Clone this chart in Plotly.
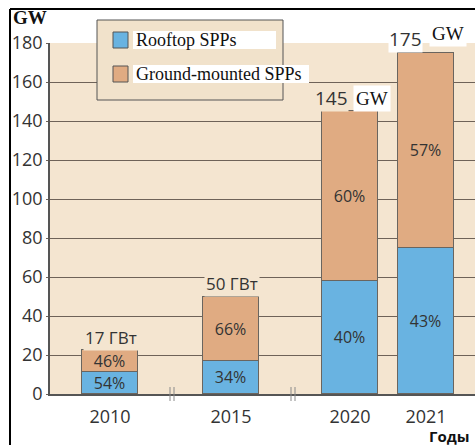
import plotly.graph_objects as go

# ---------------- data ----------------
YEARS = ["2010", "2015", "2020", "2021"]
ROOFTOP_GW = [11.5, 17, 58, 75]
GROUND_GW = [11, 33, 87, 100]
ROOFTOP_PCT = [54, 34, 40, 43]
GROUND_PCT = [46, 66, 60, 57]
TOTAL_VALUES = [17, 50, 145, 175]
TOTAL_UNITS = ["ГВт", "ГВт", "GW", "GW"]
Y_TICKS = [0, 20, 40, 60, 80, 100, 120, 140, 160, 180]
SERIES_NAMES = ["Rooftop SPPs", "Ground-mounted SPPs"]
Y_TITLE = "GW"
X_TITLE = "Годы"

# ---------------- layout constants ----------------
W, H = 475, 445
ML, MR, MT, MB = 50, 0, 43, 51
PW, PH = W - ML - MR, H - MT - MB
SLOTS = [1.2, 3.62, 6.0, 7.52]        # bar slot positions on the x axis
BREAKS = [2.44, 4.86]                 # axis-break marks
BAR_W = 1.12
BLUE = "#69b3e1"
ORANGE = "#e0ab82"
PLOT_BG = "#f4e5d0"
LEGEND_BG = "#f1e2cb"
GRID = "#6e6258"
TXT = "#333333"
SANS = "Open Sans"
SERIF = "Liberation Serif"


def px(p):
    return (p - ML) / PW


def py(p):
    return (H - MB - p) / PH


fig = go.Figure()
fig.add_trace(go.Bar(
    x=SLOTS, y=ROOFTOP_GW, width=BAR_W, name=SERIES_NAMES[0],
    marker=dict(color=BLUE, line=dict(color="#6a655f", width=1)),
    text=[f"{p}%" for p in ROOFTOP_PCT], textposition="inside",
    insidetextanchor="middle",
    insidetextfont=dict(family=SANS, size=16, color=TXT),
    showlegend=False, hoverinfo="skip"))
fig.add_trace(go.Bar(
    x=SLOTS, y=GROUND_GW, width=BAR_W, name=SERIES_NAMES[1],
    marker=dict(color=ORANGE, line=dict(color="#6a655f", width=1)),
    text=[f"{p}%" for p in GROUND_PCT], textposition="inside",
    insidetextanchor="middle",
    insidetextfont=dict(family=SANS, size=16, color=TXT),
    showlegend=False, hoverinfo="skip"))

annotations = []
shapes = []

# totals above bars
for xs, r, g, val, unit in zip(SLOTS, ROOFTOP_GW, GROUND_GW, TOTAL_VALUES, TOTAL_UNITS):
    top = r + g
    if unit == "ГВт":
        annotations.append(dict(x=xs, y=top, xref="x", yref="y", text=f"{val} {unit}",
                                showarrow=False, yanchor="middle", yshift=13, xshift=1,
                                font=dict(family=SANS, size=17, color=TXT),
                                bgcolor=PLOT_BG, borderpad=1))
    else:
        big = val > 150
        annotations.append(dict(x=xs, y=top, xref="x", yref="y", text=f"{val}",
                                showarrow=False, xanchor="right", yanchor="middle",
                                yshift=14 if big else 13, xshift=-3 if big else -1,
                                font=dict(family=SANS, size=19, color=TXT),
                                bgcolor="white" if big else PLOT_BG, borderpad=0))
        annotations.append(dict(x=xs, y=top, xref="x", yref="y", text=unit,
                                showarrow=False, xanchor="left", yanchor="middle",
                                yshift=19 if big else 13, xshift=3,
                                font=dict(family=SERIF, size=19, color="#111"),
                                bgcolor="white", borderpad=2))

# legend box
shapes.append(dict(type="rect", xref="paper", yref="paper", layer="above",
                   x0=px(97), x1=px(283), y0=py(100), y1=py(20),
                   fillcolor=LEGEND_BG, line=dict(color="#555", width=1)))
legend_rows = [(SERIES_NAMES[0], BLUE, 40, 276), (SERIES_NAMES[1], ORANGE, 74, 309)]
for name, col, cy, wend in legend_rows:
    shapes.append(dict(type="rect", xref="paper", yref="paper", layer="above",
                       x0=px(133), x1=px(wend), y0=py(cy + 9), y1=py(cy - 9),
                       fillcolor="white", line=dict(width=0)))
    shapes.append(dict(type="rect", xref="paper", yref="paper", layer="above",
                       x0=px(113), x1=px(128), y0=py(cy + 8), y1=py(cy - 8),
                       fillcolor=col, line=dict(color="#555", width=1)))
    annotations.append(dict(x=px(134), y=py(cy), xref="paper", yref="paper", text=name,
                            showarrow=False, xanchor="left", yanchor="middle",
                            font=dict(family=SERIF, size=18, color="#111")))

# axis break marks
for b in BREAKS:
    for dx in (-2, 2):
        shapes.append(dict(type="line", xref="x", yref="paper", xsizemode="pixel",
                           xanchor=b, x0=dx, x1=dx, y0=py(401), y1=py(387),
                           line=dict(color="#8a8a8a", width=1), layer="above"))

# outer frame
shapes.append(dict(type="line", xref="paper", yref="paper", x0=px(10), x1=px(W),
                   y0=py(9), y1=py(9), line=dict(color="black", width=2), layer="above"))
shapes.append(dict(type="line", xref="paper", yref="paper", x0=px(10), x1=px(10),
                   y0=py(9), y1=py(H), line=dict(color="black", width=2), layer="above"))

# axis titles
annotations.append(dict(x=px(11), y=py(18), xref="paper", yref="paper", text=f"<b>{Y_TITLE}</b>",
                        showarrow=False, xanchor="left", yanchor="middle",
                        font=dict(family=SERIF, size=19, color="#111")))
annotations.append(dict(x=px(427), y=py(436), xref="paper", yref="paper", text=f"<b>{X_TITLE}</b>",
                        showarrow=False, xanchor="left", yanchor="middle",
                        font=dict(family=SANS, size=15, color="#111")))

fig.update_layout(
    width=W, height=H, barmode="stack",
    margin=dict(l=ML, r=MR, t=MT, b=MB, pad=0),
    paper_bgcolor="white", plot_bgcolor=PLOT_BG,
    showlegend=False, bargap=0,
    uniformtext=dict(minsize=16, mode="show"),
    xaxis=dict(range=[0, PW / 50], tickvals=SLOTS, ticktext=YEARS,
               showgrid=False, zeroline=False, showline=True, linecolor="#555", linewidth=1.5,
               ticks="", ticklabelstandoff=6,
               tickfont=dict(family=SANS, size=18, color=TXT), fixedrange=True),
    yaxis=dict(range=[0, 180], tickvals=Y_TICKS, showgrid=True, gridcolor=GRID, gridwidth=1,
               zeroline=False, showline=True, linecolor="#555", linewidth=1.5,
               ticks="outside", ticklen=2, tickcolor=GRID, ticklabelstandoff=0,
               tickfont=dict(family=SANS, size=18, color=TXT), fixedrange=True),
    annotations=annotations, shapes=shapes,
)

fig.write_html("out.html", config={"displayModeBar": False},
               post_script="document.body.style.margin='0px';document.body.style.overflow='hidden';")
